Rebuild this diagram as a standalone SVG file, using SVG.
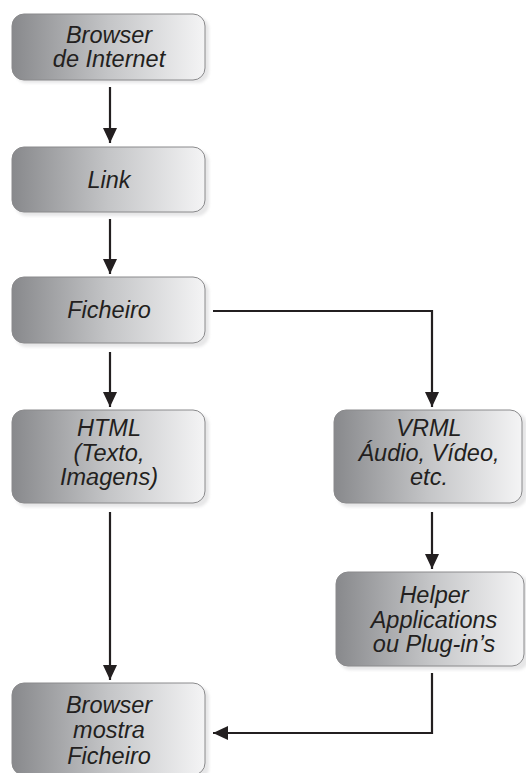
<svg xmlns="http://www.w3.org/2000/svg" width="526" height="773" viewBox="0 0 526 773">
<defs>
<linearGradient id="g" x1="0" y1="0" x2="1" y2="0">
<stop offset="0" stop-color="#88898c"/>
<stop offset="0.5" stop-color="#c4c5c7"/>
<stop offset="1" stop-color="#f4f4f5"/>
</linearGradient>
<filter id="blur" x="-10%" y="-10%" width="120%" height="130%"><feGaussianBlur stdDeviation="1.5"/></filter>
<marker id="ah" markerUnits="userSpaceOnUse" markerWidth="16" markerHeight="14" refX="15" refY="7" orient="auto">
<path d="M0,0 L15,7 L0,14 Z" fill="#231f20"/>
</marker>
</defs>
<style>
.box{fill:url(#g);stroke:#8a8a8c;stroke-width:1}
.sh{fill:#e6e6e7;filter:url(#blur)}
.t{font-family:"Liberation Sans",Arial,sans-serif;font-style:italic;font-size:23.5px;fill:#231f20;text-anchor:middle}
.c{fill:none;stroke:#231f20;stroke-width:2.2}
</style>
<g id="n1">
<rect class="sh" x="15" y="17" width="194" height="66" rx="12"/>
<rect class="box" x="12" y="14" width="193" height="66" rx="12"/>
<text class="t" x="109" y="43">Browser</text>
<text class="t" x="109" y="67">de Internet</text>
</g>
<g id="n2">
<rect class="sh" x="15" y="150" width="194" height="66" rx="12"/>
<rect class="box" x="12" y="147" width="193" height="65" rx="12"/>
<text class="t" x="109" y="188">Link</text>
</g>
<g id="n3">
<rect class="sh" x="15" y="280" width="194" height="67" rx="12"/>
<rect class="box" x="12" y="277" width="193" height="66" rx="12"/>
<text class="t" x="109" y="318">Ficheiro</text>
</g>
<g id="n4">
<rect class="sh" x="15" y="413" width="194" height="94" rx="12"/>
<rect class="box" x="12" y="410" width="193" height="93" rx="12"/>
<text class="t" x="109" y="436">HTML</text>
<text class="t" x="109" y="461">(Texto,</text>
<text class="t" x="109" y="485">Imagens)</text>
</g>
<g id="n5">
<rect class="sh" x="337" y="413" width="190" height="94" rx="12"/>
<rect class="box" x="334" y="410" width="188" height="93" rx="12"/>
<text class="t" x="429" y="436">VRML</text>
<text class="t" x="429" y="461">Áudio, Vídeo,</text>
<text class="t" x="429" y="485">etc.</text>
</g>
<g id="n6">
<rect class="sh" x="339" y="575" width="190" height="95" rx="12"/>
<rect class="box" x="336" y="572" width="188" height="94" rx="12"/>
<text class="t" x="434" y="603">Helper</text>
<text class="t" x="434" y="628">Applications</text>
<text class="t" x="434" y="652">ou Plug-in’s</text>
</g>
<g id="n7">
<rect class="sh" x="15" y="686" width="194" height="94" rx="12"/>
<rect class="box" x="12" y="683" width="193" height="92" rx="12"/>
<text class="t" x="109" y="713">Browser</text>
<text class="t" x="109" y="738">mostra</text>
<text class="t" x="109" y="764">Ficheiro</text>
</g>
<g id="connectors">
<path class="c" d="M110,87 V143" marker-end="url(#ah)"/>
<path class="c" d="M110,219 V274" marker-end="url(#ah)"/>
<path class="c" d="M110,352 V407" marker-end="url(#ah)"/>
<path class="c" d="M213,311 H432 V407" marker-end="url(#ah)"/>
<path class="c" d="M110,512 V680" marker-end="url(#ah)"/>
<path class="c" d="M432,512 V569" marker-end="url(#ah)"/>
<path class="c" d="M432,673 V733 H213" marker-end="url(#ah)"/>
</g>
</svg>
